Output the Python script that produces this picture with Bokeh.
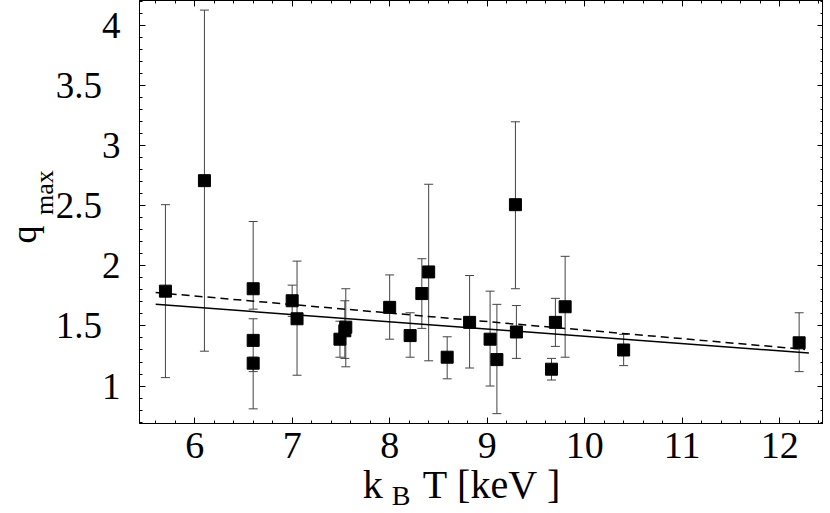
from bokeh.plotting import figure
from bokeh.models import (ColumnDataSource, LinearAxis, SingleIntervalTicker,
                          FixedTicker, Range1d, CustomJSTickFormatter)
from bokeh.embed import file_html
from bokeh.resources import INLINE

# ---- data ----
kT = [5.70, 6.10, 6.60, 6.60, 6.60, 7.00, 7.05, 7.49, 7.55, 7.54, 8.00, 8.21,
      8.33, 8.40, 8.59, 8.82, 9.03, 9.10, 9.29, 9.30, 9.66, 9.70, 9.80, 10.40, 12.20]
qmax = [1.79, 2.71, 1.81, 1.38, 1.19, 1.71, 1.56, 1.39, 1.49, 1.46, 1.655, 1.42,
        1.77, 1.95, 1.24, 1.53, 1.39, 1.22, 2.51, 1.45, 1.14, 1.53, 1.66, 1.30, 1.36]
q_lo = [1.07, 1.29, 1.64, 1.12, 0.81, 1.58, 1.09, 1.24, 1.16, 1.23, 1.39, 1.24,
        1.48, 1.21, 1.06, 1.15, 1.00, 0.77, 1.81, 1.23, 1.05, 1.33, 1.24, 1.17, 1.12]
q_hi = [2.51, 4.13, 2.37, 1.56, 1.24, 1.84, 2.04, 1.54, 1.81, 1.71, 1.925, 1.61,
        2.06, 2.68, 1.41, 1.92, 1.79, 1.68, 3.20, 1.67, 1.23, 1.73, 2.08, 1.43, 1.61]

fit_solid_x = [5.60, 12.30]
fit_solid_y = [1.68, 1.275]
fit_dash_x = [5.60, 12.26]
fit_dash_y = [1.778, 1.305]

x_range = (5.434, 12.45)
y_range = (0.688, 4.21)

FONT = "Liberation Serif"
NB = "\u00a0"

p = figure(frame_width=684, frame_height=423, output_backend="svg",
           toolbar_location=None,
           x_range=Range1d(*x_range), y_range=Range1d(*y_range),
           min_border_left=139, min_border_right=0, min_border_top=0,
           min_border_bottom=90, x_axis_location=None, y_axis_location=None)
p.background_fill_color = "white"
p.border_fill_color = "white"
p.outline_line_color = "black"
p.outline_line_width = 1
p.xgrid.visible = False
p.ygrid.visible = False


def make_axis(kind, visible_labels, font_size):
    if kind == "x":
        ticker = SingleIntervalTicker(interval=1, num_minor_ticks=5)
    else:
        ticker = SingleIntervalTicker(interval=0.5, num_minor_ticks=5)
    ax = LinearAxis(ticker=ticker)
    ax.axis_line_color = "black"
    ax.major_tick_line_color = "black"
    ax.minor_tick_line_color = "black"
    ax.major_tick_in = 6
    ax.major_tick_out = 0
    ax.minor_tick_in = 3
    ax.minor_tick_out = 0
    if visible_labels:
        ax.major_label_text_font = FONT
        ax.major_label_text_font_size = font_size
        ax.major_label_text_color = "black"
    else:
        ax.major_label_text_font_size = "0px"
        ax.major_label_text_color = None
        ax.major_label_standoff = 0
    return ax


def label_axis(text, size, standoff):
    ax = LinearAxis(ticker=FixedTicker(ticks=[]))
    ax.axis_line_color = None
    ax.major_tick_line_color = None
    ax.minor_tick_line_color = None
    ax.major_tick_out = 0
    ax.major_tick_in = 0
    ax.minor_tick_out = 0
    ax.major_label_standoff = 0
    ax.major_label_text_font_size = "0px"
    ax.axis_label = text
    ax.axis_label_text_font = FONT
    ax.axis_label_text_font_size = size
    ax.axis_label_text_font_style = "normal"
    ax.axis_label_text_color = "black"
    ax.axis_label_standoff = standoff
    return ax


# bottom axis with tick labels and the main part of the x label
xb = make_axis("x", True, "38px")
xb.major_label_standoff = 9
xb.axis_label = "k" + NB * 4 + "T" + NB + "[keV" + NB + "]" + NB * 4
xb.axis_label_text_font = FONT
xb.axis_label_text_font_size = "40px"
xb.axis_label_text_font_style = "normal"
xb.axis_label_text_color = "black"
xb.axis_label_standoff = 1

# left axis with tick labels and the subscript of the y label
yl = make_axis("y", True, "37px")
yl.major_label_standoff = 19
yl.formatter = CustomJSTickFormatter(
    code="return Number.isInteger(tick) ? tick.toFixed(0) : tick.toFixed(1) + '\\u00a0\\u00a0';")
yl.axis_label = NB * 6 + "max"
yl.axis_label_text_font = FONT
yl.axis_label_text_font_size = "26px"
yl.axis_label_text_font_style = "normal"
yl.axis_label_text_color = "black"
yl.axis_label_standoff = -6

xt = make_axis("x", False, "0px")
yr = make_axis("y", False, "0px")

p.add_layout(xb, "below")
p.add_layout(label_axis("B" + NB * 23, "28px", -30), "below")
p.add_layout(yl, "left")
p.add_layout(label_axis("q" + NB * 5, "36px", -17), "left")
p.add_layout(xt, "above")
p.add_layout(yr, "right")

src = ColumnDataSource(dict(x=kT, y=qmax, lo=q_lo, hi=q_hi))

# error bars
p.segment(x0="x", y0="lo", x1="x", y1="hi", source=src,
          line_color="#444444", line_width=1)
p.scatter(x="x", y="lo", source=src, marker="dash", size=9,
          line_color="#444444", line_width=1)
p.scatter(x="x", y="hi", source=src, marker="dash", size=9,
          line_color="#444444", line_width=1)

# fits
p.line(fit_solid_x, fit_solid_y, line_color="black", line_width=1.5)
p.line(fit_dash_x, fit_dash_y, line_color="black", line_width=1.5,
       line_dash="8 5")

# points
p.scatter(x="x", y="y", source=src, marker="square", size=12,
          fill_color="black", line_color="black")

open("out.html", "w").write(file_html(p, INLINE))
